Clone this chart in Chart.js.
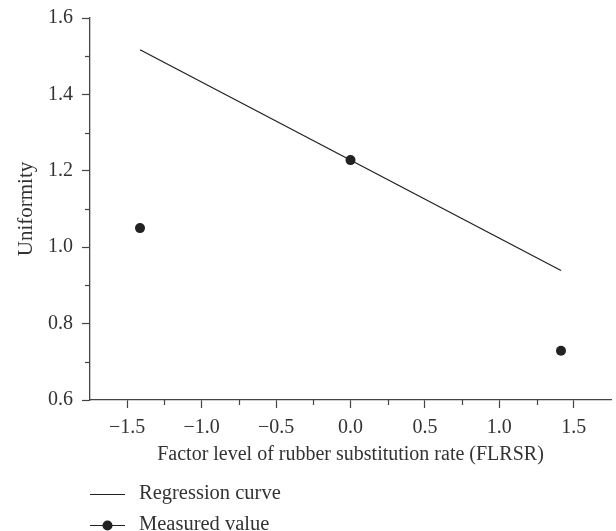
<!DOCTYPE html>
<html>
<head>
<meta charset="utf-8">
<script src="https://cdn.jsdelivr.net/npm/chart.js@4/dist/chart.umd.min.js"></script>
<style>
  html, body { margin: 0; padding: 0; background: #fff; }
  #wrap { width: 616px; height: 531px; position: relative; }
</style>
</head>
<body>
<div id="wrap"><canvas id="uniformityChart"></canvas></div>
<script>
// factor levels of the design (coded -1.414, 0, 1.414)
const factorLevels = [-1.414, 0, 1.414];
const measuredValues = [1.05, 1.228, 0.729];
// regression curve endpoints
const regressionX = [-1.414, 1.414];
const regressionY = [1.517, 0.939];
const xTickValues = [-1.5, -1.0, -0.5, 0.0, 0.5, 1.0, 1.5];
const seriesLabels = ['Regression curve', 'Measured value'];

const FONT = '"Liberation Serif", "Times New Roman", serif';
const INK = '#222';
const AXIS = '#444';

const fmt = v => {
    const s = Math.abs(v).toFixed(1);
    return (v < -1e-9 ? '\u2212' : '') + s;
};

// minor ticks + legend drawn on the canvas
const extrasPlugin = {
    id: 'extras',
    afterDraw(chart) {
        const ctx = chart.ctx;
        const { x, y } = chart.scales;
        ctx.save();
        ctx.strokeStyle = AXIS;
        ctx.lineWidth = 1.2;
        // minor ticks on y (every 0.1)
        for (let v = 0.7; v < 1.6; v += 0.2) {
            const py = Math.round(y.getPixelForValue(v)) + 0.5;
            ctx.beginPath();
            ctx.moveTo(x.left - 5, py);
            ctx.lineTo(x.left, py);
            ctx.stroke();
        }
        // minor ticks on x (every 0.25)
        for (let v = -1.25; v < 1.75; v += 0.5) {
            const px = Math.round(x.getPixelForValue(v)) + 0.5;
            ctx.beginPath();
            ctx.moveTo(px, y.bottom);
            ctx.lineTo(px, y.bottom + 5);
            ctx.stroke();
        }

        // legend, one item per row
        const lx = 90, lw = 35, rowY = [494, 525];
        ctx.font = '20.5px ' + FONT;
        ctx.textBaseline = 'middle';
        ctx.textAlign = 'left';
        chart.data.datasets.forEach((ds, i) => {
            const yy = rowY[i] + 0.5;
            ctx.strokeStyle = INK;
            ctx.lineWidth = 1.2;
            ctx.beginPath();
            ctx.moveTo(lx, yy);
            ctx.lineTo(lx + lw, yy);
            ctx.stroke();
            if (ds.pointRadius > 0) {
                ctx.fillStyle = INK;
                ctx.beginPath();
                ctx.arc(lx + lw / 2, yy, 5, 0, Math.PI * 2);
                ctx.fill();
            }
            ctx.fillStyle = '#333';
            ctx.fillText(ds.label, lx + lw + 14, rowY[i]);
        });
        ctx.restore();
    }
};

new Chart(document.getElementById('uniformityChart'), {
    type: 'scatter',
    data: {
        datasets: [
            {
                label: seriesLabels[0],
                data: regressionX.map((v, i) => ({ x: v, y: regressionY[i] })),
                showLine: true,
                borderColor: INK,
                borderWidth: 1.3,
                pointRadius: 0,
                fill: false
            },
            {
                label: seriesLabels[1],
                data: factorLevels.map((v, i) => ({ x: v, y: measuredValues[i] })),
                showLine: false,
                backgroundColor: INK,
                borderColor: INK,
                pointRadius: 5,
                pointBorderWidth: 0
            }
        ]
    },
    options: {
        responsive: true,
        maintainAspectRatio: false,
        animation: false,
        layout: { padding: { top: 18, right: 3, bottom: 60, left: 0 } },
        plugins: {
            legend: { display: false },
            tooltip: { enabled: false }
        },
        scales: {
            x: {
                type: 'linear',
                min: -1.75,
                max: 1.75,
                afterBuildTicks(scale) {
                    scale.ticks = xTickValues.map(v => ({ value: v }));
                },
                afterFit(scale) { scale.height = 71; },
                grid: {
                    drawOnChartArea: false,
                    drawTicks: true,
                    tickLength: 8,
                    tickColor: AXIS,
                    tickWidth: 1.2
                },
                border: { color: AXIS, width: 1.3 },
                ticks: {
                    callback: v => fmt(v),
                    color: '#333',
                    padding: 8,
                    maxRotation: 0,
                    font: { family: FONT, size: 20 }
                },
                title: {
                    display: true,
                    text: 'Factor level of rubber substitution rate (FLRSR)',
                    color: '#333',
                    padding: { top: 5 },
                    font: { family: FONT, size: 20 }
                }
            },
            y: {
                type: 'linear',
                min: 0.6,
                max: 1.6,
                afterFit(scale) {
                    scale.width = 90;
                    scale.paddingTop = 0;
                    scale.paddingBottom = 0;
                },
                grid: {
                    drawOnChartArea: false,
                    drawTicks: true,
                    tickLength: 8,
                    tickColor: AXIS,
                    tickWidth: 1.2
                },
                border: { color: AXIS, width: 1.3 },
                ticks: {
                    stepSize: 0.2,
                    callback: v => fmt(v),
                    color: '#333',
                    padding: 9,
                    font: { family: FONT, size: 20 }
                },
                title: {
                    display: true,
                    text: 'Uniformity',
                    color: '#333',
                    padding: { top: 14, bottom: 12 },
                    font: { family: FONT, size: 21 }
                }
            }
        }
    },
    plugins: [extrasPlugin]
});
</script>
</body>
</html>
